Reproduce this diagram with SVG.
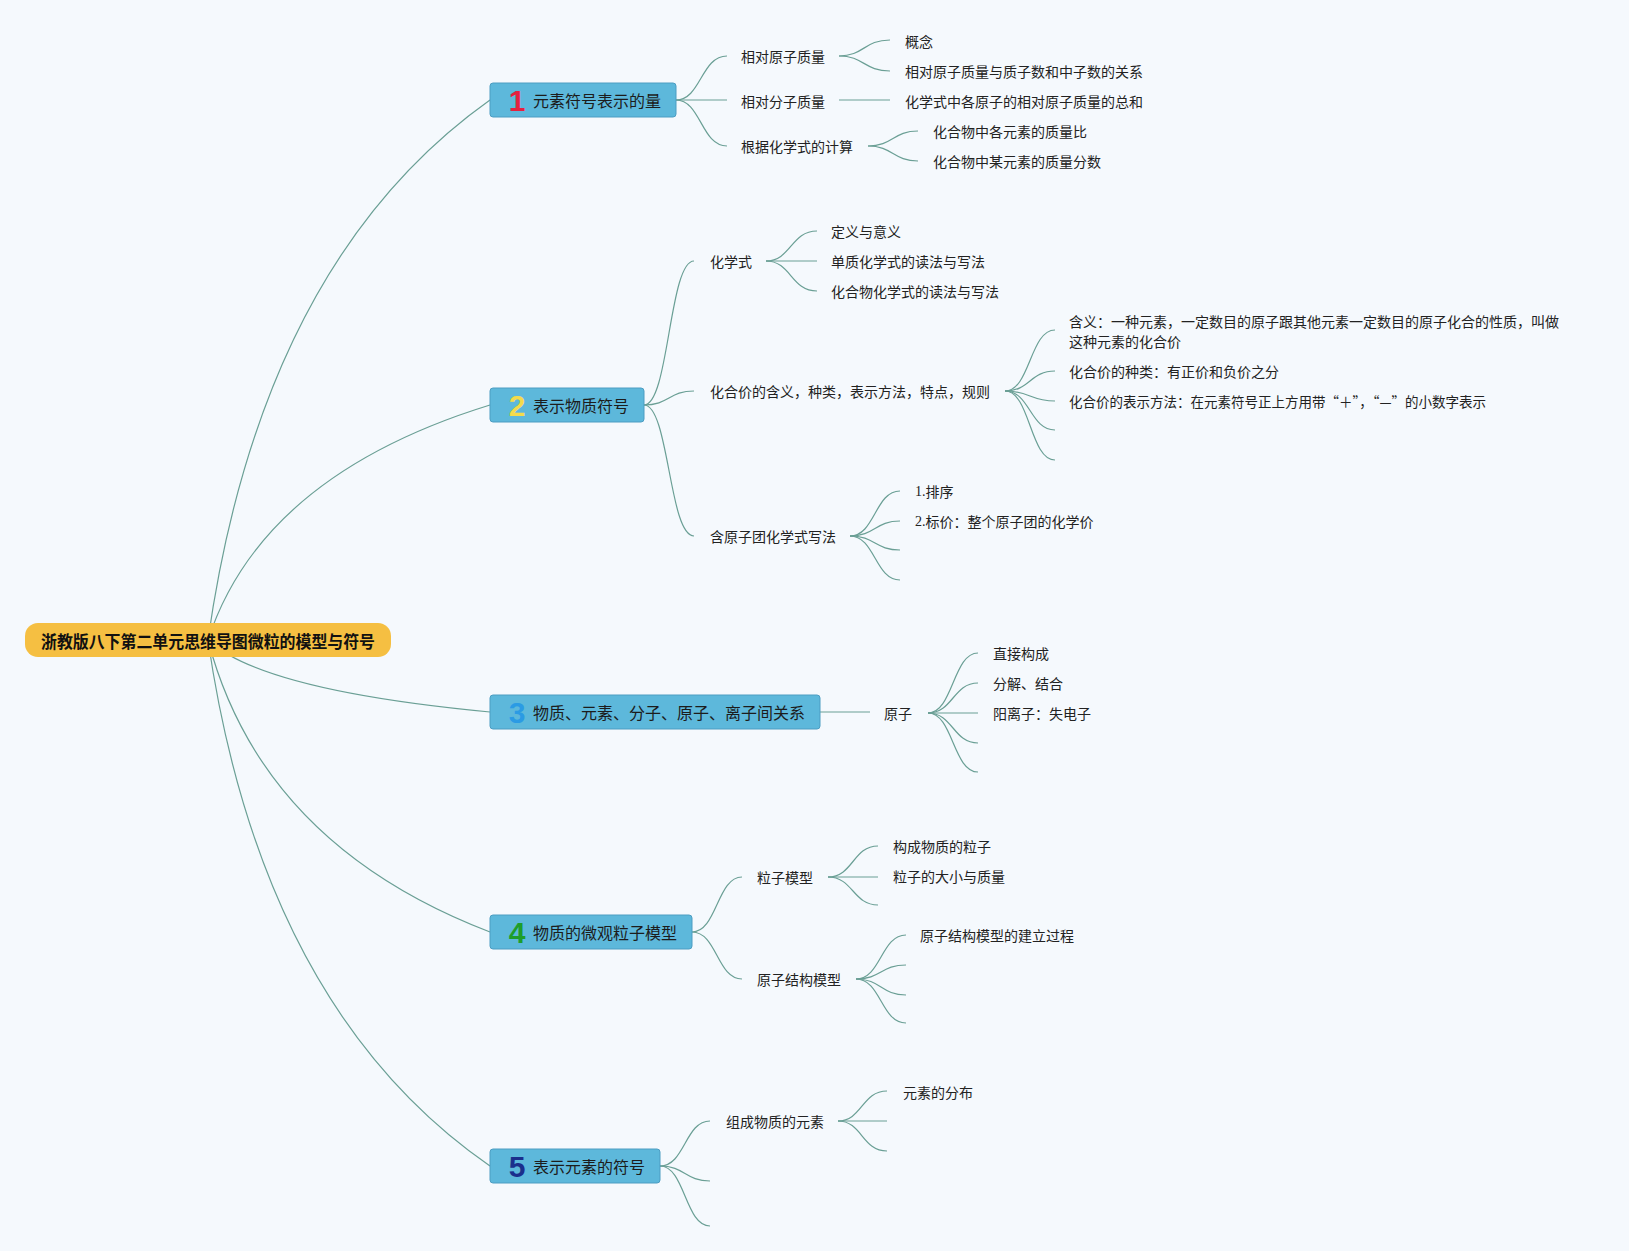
<svg xmlns="http://www.w3.org/2000/svg" width="1629" height="1251" viewBox="0 0 1629 1251">
<style>
.conn path{fill:none;stroke:#6A9F95;stroke-width:1.2}
.central{fill:#F5BF42}
.topic{fill:#5DB8DB;stroke:#4C9DC2;stroke-width:1}
text{font-family:"Noto Sans CJK SC","Noto Sans",sans-serif;fill:#1c1c1c;dominant-baseline:central}
.ct{font-size:16.7px;font-weight:bold;fill:#111}
.mt{font-size:16px}
.st{font-size:14px;fill:#222}
.num{font-family:"Liberation Sans",Arial,sans-serif;font-size:30px;font-weight:bold;text-anchor:middle;dominant-baseline:auto}
.ser{font-family:"Liberation Serif",serif}
</style>
<rect width="1629" height="1251" fill="#F5F9FD"/>
<g class="conn">
<path d="M208,640 Q261.6,262 490,100"/>
<path d="M208,640 Q261.6,475.5 490,405"/>
<path d="M208,640 Q261.6,690.4 490,712"/>
<path d="M208,640 Q261.6,844.4 490,932"/>
<path d="M208,640 Q261.6,1008.2 490,1166"/>
<path d="M676,100 C701,100 701,56 727,56"/>
<path d="M676,100 L727,100"/>
<path d="M676,100 C701,100 701,146 727,146"/>
<path d="M839,56 C864,56 864,40 890,40"/>
<path d="M839,56 C864,56 864,71 890,71"/>
<path d="M839,100 L890,100"/>
<path d="M868,146 C893,146 893,131 918,131"/>
<path d="M868,146 C893,146 893,161 918,161"/>
<path d="M644,405 C669,405 669,261 694,261"/>
<path d="M644,405 C669,405 669,391 694,391"/>
<path d="M644,405 C669,405 669,536 694,536"/>
<path d="M766,261 C791,261 791,231 817,231"/>
<path d="M766,261 L817,261"/>
<path d="M766,261 C791,261 791,291 817,291"/>
<path d="M1005,391 C1030,391 1030,330 1055,330"/>
<path d="M1005,391 C1030,391 1030,371 1055,371"/>
<path d="M1005,391 C1030,391 1030,401 1055,401"/>
<path d="M1005,391 C1030,391 1030,430 1055,430"/>
<path d="M1005,391 C1030,391 1030,460 1055,460"/>
<path d="M850,536 C875,536 875,491 900,491"/>
<path d="M850,536 C875,536 875,521 900,521"/>
<path d="M850,536 C875,536 875,550 900,550"/>
<path d="M850,536 C875,536 875,580 900,580"/>
<path d="M820,712 L870,712"/>
<path d="M928,713 C953,713 953,653 978,653"/>
<path d="M928,713 C953,713 953,683 978,683"/>
<path d="M928,713 L978,713"/>
<path d="M928,713 C953,713 953,743 978,743"/>
<path d="M928,713 C953,713 953,772 978,772"/>
<path d="M692,932 C717,932 717,877 742,877"/>
<path d="M692,932 C717,932 717,979 742,979"/>
<path d="M828,877 C853,877 853,846 878,846"/>
<path d="M828,877 L878,877"/>
<path d="M828,877 C853,877 853,905 878,905"/>
<path d="M856,979 C881,979 881,935 906,935"/>
<path d="M856,979 C881,979 881,965 906,965"/>
<path d="M856,979 C881,979 881,995 906,995"/>
<path d="M856,979 C881,979 881,1023 906,1023"/>
<path d="M660,1166 C685,1166 685,1121 710,1121"/>
<path d="M660,1166 C685,1166 685,1181 710,1181"/>
<path d="M660,1166 C685,1166 685,1226 710,1226"/>
<path d="M838,1121 C862,1121 862,1091 887,1091"/>
<path d="M838,1121 L887,1121"/>
<path d="M838,1121 C862,1121 862,1151 887,1151"/>
</g>
<g id="central">
<rect class="central" x="25" y="623" width="366" height="34" rx="13"/>
<text class="ct" x="41" y="641" textLength="334" lengthAdjust="spacingAndGlyphs">浙教版八下第二单元思维导图微粒的模型与符号</text>
</g>
<g id="n1">
<rect class="topic" x="490" y="83" width="186" height="34" rx="3"/>
<text class="num" x="517" y="111" style="fill:#E5213E">1</text>
<text class="mt" x="533" y="100">元素符号表示的量</text>
</g>
<g id="n1a"><text class="st" x="741" y="56">相对原子质量</text></g>
<g id="n1a1"><text class="st" x="905" y="41">概念</text></g>
<g id="n1a2"><text class="st" x="905" y="71">相对原子质量与质子数和中子数的关系</text></g>
<g id="n1b"><text class="st" x="741" y="101">相对分子质量</text></g>
<g id="n1b1"><text class="st" x="905" y="101">化学式中各原子的相对原子质量的总和</text></g>
<g id="n1c"><text class="st" x="741" y="146">根据化学式的计算</text></g>
<g id="n1c1"><text class="st" x="933" y="131">化合物中各元素的质量比</text></g>
<g id="n1c2"><text class="st" x="933" y="161">化合物中某元素的质量分数</text></g>
<g id="n2">
<rect class="topic" x="490" y="388" width="154" height="34" rx="3"/>
<text class="num" x="517" y="416" style="fill:#F3DB4C">2</text>
<text class="mt" x="533" y="405">表示物质符号</text>
</g>
<g id="n2a"><text class="st" x="710" y="261">化学式</text></g>
<g id="n2a1"><text class="st" x="831" y="231">定义与意义</text></g>
<g id="n2a2"><text class="st" x="831" y="261">单质化学式的读法与写法</text></g>
<g id="n2a3"><text class="st" x="831" y="291">化合物化学式的读法与写法</text></g>
<g id="n2b"><text class="st" x="710" y="391">化合价的含义，种类，表示方法，特点，规则</text></g>
<g id="n2b1"><text class="st" x="1069" y="321">含义：一种元素，一定数目的原子跟其他元素一定数目的原子化合的性质，叫做</text><text class="st" x="1069" y="341">这种元素的化合价</text></g>
<g id="n2b2"><text class="st" x="1069" y="371">化合价的种类：有正价和负价之分</text></g>
<g id="n2b3"><text class="st" x="1069" y="401" textLength="417" lengthAdjust="spacingAndGlyphs">化合价的表示方法：在元素符号正上方用带“＋”，“—”的小数字表示</text></g>
<g id="n2c"><text class="st" x="710" y="536">含原子团化学式写法</text></g>
<g id="n2c1"><text class="st" x="915" y="491"><tspan class="ser">1.</tspan>排序</text></g>
<g id="n2c2"><text class="st" x="915" y="521"><tspan class="ser">2.</tspan>标价：整个原子团的化学价</text></g>
<g id="n3">
<rect class="topic" x="490" y="695" width="330" height="34" rx="3"/>
<text class="num" x="517" y="723" style="fill:#2B9BE4">3</text>
<text class="mt" x="533" y="712">物质、元素、分子、原子、离子间关系</text>
</g>
<g id="n3a"><text class="st" x="884" y="713">原子</text></g>
<g id="n3a1"><text class="st" x="993" y="653">直接构成</text></g>
<g id="n3a2"><text class="st" x="993" y="683">分解、结合</text></g>
<g id="n3a3"><text class="st" x="993" y="713">阳离子：失电子</text></g>
<g id="n4">
<rect class="topic" x="490" y="915" width="202" height="34" rx="3"/>
<text class="num" x="517" y="943" style="fill:#1E9E2B">4</text>
<text class="mt" x="533" y="932">物质的微观粒子模型</text>
</g>
<g id="n4a"><text class="st" x="757" y="877">粒子模型</text></g>
<g id="n4a1"><text class="st" x="893" y="846">构成物质的粒子</text></g>
<g id="n4a2"><text class="st" x="893" y="876">粒子的大小与质量</text></g>
<g id="n4b"><text class="st" x="757" y="979">原子结构模型</text></g>
<g id="n4b1"><text class="st" x="920" y="935">原子结构模型的建立过程</text></g>
<g id="n5">
<rect class="topic" x="490" y="1149" width="170" height="34" rx="3"/>
<text class="num" x="517" y="1177" style="fill:#1B2F8C">5</text>
<text class="mt" x="533" y="1166">表示元素的符号</text>
</g>
<g id="n5a"><text class="st" x="726" y="1121">组成物质的元素</text></g>
<g id="n5a1"><text class="st" x="903" y="1092">元素的分布</text></g>
</svg>
